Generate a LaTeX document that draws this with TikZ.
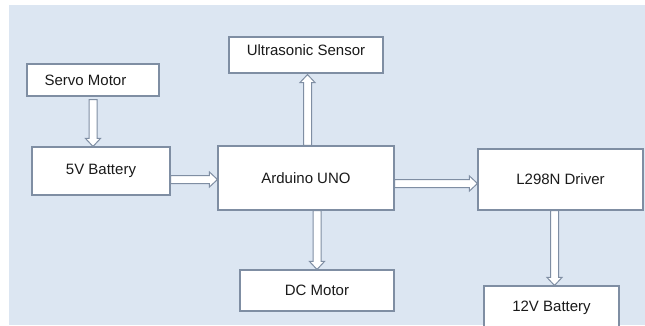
\documentclass[tikz,border=0pt]{standalone}
\usepackage{fontspec}
\setmainfont{Liberation Sans}
\usetikzlibrary{calc}
\definecolor{bgblue}{HTML}{DCE6F2}
\definecolor{bordercol}{HTML}{7F8EA3}
\definecolor{txt}{HTML}{1A1A1A}
\tikzset{
  blockbox/.style={draw=bordercol, fill=white, line width=1.1pt, inner sep=0pt,
    text=txt, font=\fontsize{15}{18}\selectfont},
  harrow/.style={draw=bordercol, fill=white, line width=1pt, line join=miter,
    to path={
      ($(\tikztostart)!4pt!90:(\tikztotarget)$)
      -- ($($(\tikztotarget)!8pt!(\tikztostart)$)!4pt!90:(\tikztotarget)$)
      -- ($($(\tikztotarget)!8pt!(\tikztostart)$)!7.5pt!90:(\tikztotarget)$)
      -- (\tikztotarget)
      -- ($($(\tikztotarget)!8pt!(\tikztostart)$)!7.5pt!-90:(\tikztotarget)$)
      -- ($($(\tikztotarget)!8pt!(\tikztostart)$)!4pt!-90:(\tikztotarget)$)
      -- ($(\tikztostart)!4pt!-90:(\tikztotarget)$)
      -- cycle
    }}
}
\begin{document}
\begin{tikzpicture}[x=1pt, y=-1pt]
\useasboundingbox (0,0) rectangle (645,325);
\fill[white] (0,0) rectangle (645,325);
\fill[bgblue] (9,5) rectangle (645,325);

\node[blockbox, minimum width=132pt, minimum height=32pt] (servo) at (93,80) {\hspace*{-15pt}Servo Motor};
\node[blockbox, minimum width=138pt, minimum height=48pt] (bat5) at (101,171) {5V Battery};
\node[blockbox, minimum width=154pt, minimum height=36pt] (us) at (306,55) {\raisebox{10pt}{Ultrasonic Sensor}};
\node[blockbox, minimum width=176pt, minimum height=64pt] (ard) at (306,178) {Arduino UNO};
\node[blockbox, minimum width=154pt, minimum height=41pt] (dc) at (317,290.5) {DC Motor};
\node[blockbox, minimum width=165pt, minimum height=61pt] (drv) at (560.5,179.5) {L298N Driver};
\node[blockbox, minimum width=135pt, minimum height=48pt] (bat12) at (551.5,310) {\raisebox{8pt}{12V Battery}};

% connector end points
\coordinate (a1s) at ($(servo.south)+(0,3)$);
\coordinate (a1e) at (a1s |- bat5.north);
\coordinate (a2s) at ($(bat5.east)+(0,8.5)$);
\coordinate (a2e) at (a2s -| ard.west);
\coordinate (a3s) at ($(ard.north)+(1.5,0)$);
\coordinate (a3e) at ($(a3s |- us.south)+(0,1)$);
\coordinate (a4s) at (dc.north |- ard.south);
\coordinate (a4e) at (dc.north);
\coordinate (a5s) at ($(ard.east)+(0,5.5)$);
\coordinate (a5e) at (a5s -| drv.west);
\coordinate (a6s) at ($(bat12.north |- drv.south)+(3,0)$);
\coordinate (a6e) at ($(bat12.north)+(3,0)$);

\draw[harrow] (a1s) to (a1e);
\draw[harrow] (a2s) to (a2e);
\draw[harrow] (a3s) to (a3e);
\draw[harrow] (a4s) to (a4e);
\draw[harrow] (a5s) to (a5e);
\draw[harrow] (a6s) to (a6e);
\end{tikzpicture}
\end{document}
